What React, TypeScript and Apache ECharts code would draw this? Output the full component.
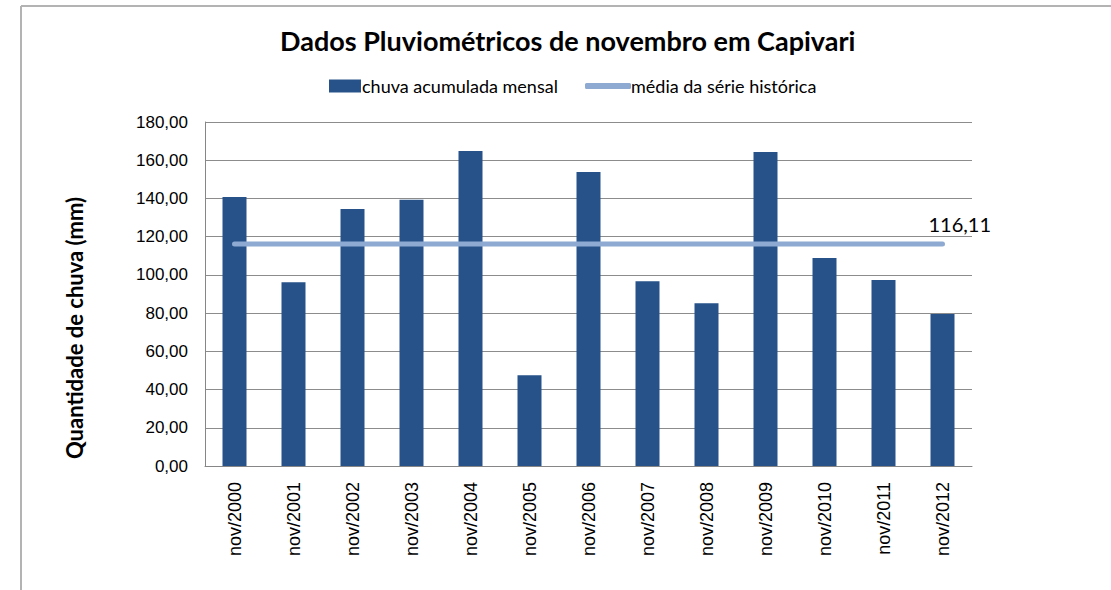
import React, { useEffect, useRef } from "react";
import * as echarts from "echarts";

const categorias = [
  "nov/2000", "nov/2001", "nov/2002", "nov/2003", "nov/2004", "nov/2005", "nov/2006",
  "nov/2007", "nov/2008", "nov/2009", "nov/2010", "nov/2011", "nov/2012",
];
const chuvaMensal = [140.7, 96.2, 134.5, 139.3, 164.8, 47.5, 153.8, 96.7, 85.2, 164.3, 108.8, 97.3, 79.6];
const mediaSerie = [116.11, 116.11, 116.11, 116.11, 116.11, 116.11, 116.11, 116.11, 116.11, 116.11, 116.11, 116.11, 116.11];
const yTicks = { min: 0, max: 180, interval: 20 };

const fmt = (v: number) => v.toFixed(2).replace(".", ",");

export default function App() {
  const ref = useRef<HTMLDivElement>(null);
  useEffect(() => {
    if (!ref.current) return;
    const chart = echarts.init(ref.current, null, { renderer: "svg" });
    const lato = 'Lato, "DejaVu Sans Condensed", sans-serif';
    const sans = '"Liberation Sans", Arial, sans-serif';
    chart.setOption({
      animation: false,
      backgroundColor: "#ffffff",
      title: {
        text: "Dados Pluviométricos de novembro em Capivari",
        left: 275,
        top: 22,
        textStyle: { fontFamily: lato, fontWeight: "bold", fontSize: 27, color: "#000" },
      },
      legend: [
        {
          data: ["chuva acumulada mensal"],
          left: 324,
          top: 72,
          itemWidth: 32,
          itemHeight: 13,
          icon: "rect",
          textStyle: { fontFamily: lato, fontSize: 18, color: "#000", padding: [0, 0, 0, -4] },
        },
        {
          data: ["média da série histórica"],
          left: 580,
          top: 72,
          itemWidth: 46,
          itemHeight: 6,
          icon: "roundRect",
          textStyle: { fontFamily: lato, fontSize: 18, color: "#000", padding: [0, 0, 0, -5] },
        },
      ],
      graphic: [
        { type: "line", shape: { x1: 21, y1: 6, x2: 1111, y2: 6 }, style: { stroke: "#b3b3b3", lineWidth: 2 } },
        { type: "line", shape: { x1: 21, y1: 6, x2: 21, y2: 590 }, style: { stroke: "#b3b3b3", lineWidth: 2 } },
        {
          type: "text",
          x: 74,
          y: 328,
          rotation: Math.PI / 2,
          style: {
            text: "Quantidade de chuva (mm)",
            fontFamily: lato,
            fontWeight: "bold",
            fontSize: 22,
            fill: "#000",
            textAlign: "center",
            textVerticalAlign: "middle",
          },
        },
      ],
      grid: { left: 205, right: 139, top: 122, bottom: 124 },
      xAxis: {
        type: "category",
        data: categorias,
        axisLine: { lineStyle: { color: "#868686", width: 1 } },
        axisTick: { show: false },
        axisLabel: { rotate: 90, fontFamily: sans, fontSize: 18, color: "#000", margin: 16 },
      },
      yAxis: {
        type: "value",
        min: yTicks.min,
        max: yTicks.max,
        interval: yTicks.interval,
        axisLine: { show: true, lineStyle: { color: "#868686", width: 1 } },
        axisTick: { show: false },
        splitLine: { lineStyle: { color: "#8c8c8c", width: 1 } },
        axisLabel: { formatter: (v: number) => fmt(v), fontFamily: sans, fontSize: 17, color: "#000", margin: 17 },
      },
      series: [
        {
          name: "chuva acumulada mensal",
          type: "bar",
          data: chuvaMensal,
          barWidth: 24,
          itemStyle: { color: "#265289" },
        },
        {
          name: "média da série histórica",
          type: "line",
          data: mediaSerie,
          showSymbol: false,
          symbol: "none",
          lineStyle: { color: "#8eaad2", width: 5, cap: "round" },
          itemStyle: { color: "#8eaad2" },
          endLabel: {
            show: true,
            formatter: (p: any) => fmt(p.value),
            offset: [-22, -20],
            fontFamily: lato,
            fontSize: 20,
            color: "#000",
          },
        },
      ],
    });
    return () => chart.dispose();
  }, []);
  return <div ref={ref} style={{ position: "absolute", left: 0, top: 0, width: 1111, height: 590 }} />;
}
